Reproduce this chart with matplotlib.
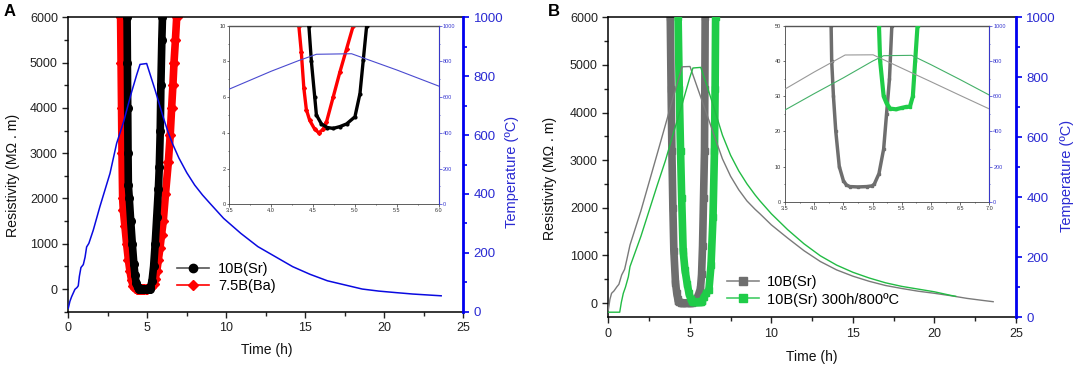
import matplotlib
matplotlib.use("Agg")
import matplotlib.pyplot as plt
from matplotlib.lines import Line2D
from matplotlib.ticker import MultipleLocator

plt.rcParams['font.family'] = ['Liberation Sans', 'DejaVu Sans']

# ---------------- Panel A data ----------------
A_sr_t = [3.68, 3.72, 3.74, 3.76, 3.78, 3.80, 3.86, 3.95, 4.05, 4.15, 4.22, 4.30, 4.38, 4.45, 4.48, 4.52,
          4.54, 4.60, 4.67, 4.74, 4.82, 4.90, 5.00, 5.06, 5.10, 5.14, 5.20, 5.30, 5.40, 5.50, 5.60, 5.70,
          5.76, 5.82, 5.86, 5.92, 5.96, 6.00]
A_sr_R = [7000, 6000, 5000, 4000, 3000, 2300, 2000, 1500, 1000, 550, 300, 130, 40, 10, 8, 6,
          5, 4.5, 4.3, 4.25, 4.35, 4.5, 4.9, 6.2, 8.1, 10, 40, 180, 500, 1000, 1600, 2200,
          2700, 3500, 4500, 5500, 6000, 7000]

A_ba_t = [3.28, 3.31, 3.34, 3.37, 3.40, 3.44, 3.48, 3.58, 3.69, 3.80, 3.90, 4.00, 4.11, 4.20, 4.28, 4.33,
          4.36, 4.39, 4.42, 4.46, 4.52, 4.57, 4.62, 4.66, 4.74, 4.82, 4.90, 4.98, 5.10, 5.25, 5.40, 5.50,
          5.60, 5.70, 5.80, 5.90, 6.01, 6.15, 6.33, 6.45, 6.54, 6.62, 6.69, 6.78, 6.86, 6.92]
A_ba_R = [7000, 6000, 5000, 4000, 3000, 2000, 1750, 1400, 1000, 650, 400, 200, 60, 25, 14, 10,
          8.5, 6.5, 5.3, 4.7, 4.2, 4.0, 4.2, 4.6, 6.0, 7.4, 8.7, 10, 20, 50, 120, 220,
          400, 650, 900, 1200, 1500, 2100, 2800, 3400, 4000, 4500, 5000, 5500, 6000, 7000]

A_temp_t = [0, 0.1, 0.21, 0.42, 0.55, 0.63, 0.7, 0.8, 0.95, 1.06, 1.16, 1.3, 1.58, 2.0, 2.64, 3.06,
            3.5, 3.7, 4.0, 4.33, 4.54, 4.96, 5.5, 6.0, 6.3, 6.6, 7.0, 7.5, 8.0, 8.5, 9.0, 9.83,
            10.92, 12.0, 13.1, 14.2, 15.3, 16.4, 17.5, 18.6, 19.65, 20.7, 21.8, 22.7, 23.6]
A_temp_T = [12, 35, 51, 76, 82, 88, 120, 150, 160, 185, 220, 232, 277, 357, 470, 572,
            645, 685, 745, 805, 840, 843, 752, 662, 612, 570, 522, 472, 430, 396, 366, 317,
            266, 221, 187, 153, 127, 105, 91, 77, 70, 65, 60, 57, 54]

# ---------------- Panel B data ----------------
B_sr_t = [3.76, 3.80, 3.85, 3.90, 3.96, 4.02, 4.12, 4.20, 4.26, 4.29, 4.30, 4.33, 4.37, 4.43, 4.50, 4.55,
          4.61, 4.75, 4.90, 4.99, 5.03, 5.11, 5.19, 5.24, 5.29, 5.33, 5.40, 5.50, 5.58, 5.65, 5.72, 5.78,
          5.84, 5.90, 5.92, 5.94, 5.97]
B_sr_R = [7000, 6000, 4500, 3200, 2000, 1100, 430, 200, 90, 50, 40, 30, 20, 10, 6, 4.8,
          4.3, 4.2, 4.3, 4.5, 5, 8, 15, 25, 35, 50, 90, 150, 220, 300, 600, 1200,
          2200, 3200, 4500, 6000, 7000]

B_aged_t = [4.24, 4.28, 4.35, 4.43, 4.50, 4.59, 4.70, 4.84, 4.95, 5.05, 5.11, 5.13, 5.19, 5.24, 5.30, 5.40,
            5.50, 5.58, 5.64, 5.69, 5.73, 5.77, 5.86, 6.00, 6.17, 6.30, 6.42, 6.51, 6.55, 6.58, 6.62]
B_aged_R = [7000, 6000, 4500, 3200, 2200, 1100, 700, 400, 200, 90, 50, 40, 30, 28, 26.5, 26.3,
            26.7, 27, 27, 30, 40, 50, 120, 200, 280, 800, 1800, 3200, 4500, 6000, 7000]

B_sr_temp_t = [0, 0.1, 0.2, 0.35, 0.53, 0.65, 0.82, 1.0, 1.13, 1.33, 2.0, 2.5, 3.0, 3.5, 4.0, 4.53,
               5.01, 5.5, 6.0, 6.5, 7.0, 7.5, 8.0, 8.5, 9.0, 9.3, 10.0, 11.0, 12.0, 13.0, 14.0, 15.0,
               16.0, 17.0, 18.0, 19.0, 20.0, 21.0, 22.0, 23.0, 23.6]
B_sr_temp_T = [24, 60, 80, 88, 102, 110, 141, 160, 191, 241, 355, 450, 545, 641, 738, 835,
               836, 760, 683, 605, 528, 470, 425, 388, 360, 345, 308, 264, 222, 186, 158, 137,
               120, 106, 96, 87, 80, 72, 63, 56, 52]

B_aged_temp_t = [0, 0.35, 0.7, 0.8, 0.92, 1.05, 1.23, 1.33, 2.0, 2.5, 3.0, 3.5, 4.0, 4.5, 5.0, 5.19,
                 5.67, 6.0, 6.5, 7.0, 7.5, 8.0, 8.5, 9.0, 9.3, 10.0, 11.0, 12.0, 13.0, 14.0, 15.0, 16.0,
                 17.0, 18.0, 19.0, 20.0, 21.0, 21.3]
B_aged_temp_T = [17, 17, 17, 50, 80, 100, 135, 169, 270, 355, 440, 522, 615, 705, 800, 831,
                 833, 780, 695, 607, 540, 488, 445, 408, 388, 345, 292, 245, 205, 174, 150, 131,
                 115, 103, 94, 85, 73, 70]

A_labels = ['10B(Sr)', '7.5B(Ba)']
B_labels = ['10B(Sr)', '10B(Sr) 300h/800ºC']

# ---------------- styling ----------------
W, H = 1084.0, 368.0
BLUE = '#0000f0'
BLUE_TXT = '#2a2ad2'
RED = '#ff0000'
GRAY = '#6e6e6e'
GREEN = '#1fcc48'


def rect(l, r, t, b):
    return [l / W, (H - b) / H, (r - l) / W, (b - t) / H]


def style_main(ax, ax2, ymin):
    ax.set_xlim(0, 25)
    ax.set_ylim(ymin, 6000)
    ax.set_yticks([0, 1000, 2000, 3000, 4000, 5000, 6000])
    ax.yaxis.set_minor_locator(MultipleLocator(500))
    ax.xaxis.set_major_locator(MultipleLocator(5))
    ax.xaxis.set_minor_locator(MultipleLocator(2.5))
    ax.tick_params(which='both', direction='out', width=1.0, labelsize=9, colors='#222222')
    ax.tick_params(which='major', length=4)
    ax.tick_params(which='minor', length=3)
    for s in ['left', 'bottom', 'top']:
        ax.spines[s].set_linewidth(1.1)
    ax2.set_ylim(0, 1000)
    ax2.yaxis.set_major_locator(MultipleLocator(200))
    ax2.yaxis.set_minor_locator(MultipleLocator(100))
    ax2.tick_params(which='both', direction='out', width=1.2, colors=BLUE, labelsize=9.5)
    ax2.tick_params(which='major', length=4)
    ax2.tick_params(which='minor', length=3)
    for lab in ax2.get_yticklabels():
        lab.set_color(BLUE_TXT)
    ax2.spines['right'].set_color(BLUE)
    ax2.spines['right'].set_linewidth(2.0)
    for s in ['left', 'bottom', 'top']:
        ax2.spines[s].set_visible(False)


def style_inset(ax, ax2, xmax, ymax, ystep):
    ax.set_xlim(3.5, xmax)
    ax.set_ylim(0, ymax)
    ax.xaxis.set_major_locator(MultipleLocator(0.5))
    ax.xaxis.set_minor_locator(MultipleLocator(0.25))
    ax.yaxis.set_major_locator(MultipleLocator(ystep))
    ax.yaxis.set_minor_locator(MultipleLocator(ystep / 2))
    ax.xaxis.set_major_formatter(matplotlib.ticker.FormatStrFormatter('%.1f'))
    ax.tick_params(which='both', direction='out', width=0.5, labelsize=4, pad=1, colors='#333333')
    ax.tick_params(which='major', length=1.8)
    ax.tick_params(which='minor', length=1.0)
    for s in ['left', 'bottom']:
        ax.spines[s].set_linewidth(0.6)
        ax.spines[s].set_color('#444444')
    ax.spines['top'].set_linewidth(1.0)
    ax.spines['top'].set_color('#555555')
    ax2.set_ylim(0, 1000)
    ax2.yaxis.set_major_locator(MultipleLocator(200))
    ax2.yaxis.set_minor_locator(MultipleLocator(100))
    ax2.tick_params(which='both', direction='out', width=0.5, labelsize=4, pad=1, colors='#3a3ad0')
    ax2.tick_params(which='major', length=1.8)
    ax2.tick_params(which='minor', length=1.0)
    ax2.spines['right'].set_color('#3a3ad0')
    ax2.spines['right'].set_linewidth(0.7)
    for s in ['left', 'bottom', 'top']:
        ax2.spines[s].set_visible(False)


fig = plt.figure(figsize=(W / 100, H / 100), dpi=100)

# ---------------- Panel A ----------------
axA = fig.add_axes(rect(68.3, 463.3, 17.3, 311.7))
axA.plot(A_sr_t, A_sr_R, color='black', lw=5.5, marker='o', ms=5.5, zorder=3)
axA.plot(A_ba_t, A_ba_R, color=RED, lw=5.5, marker='D', ms=5.5, zorder=2)
axA2 = axA.twinx()
axA2.plot(A_temp_t, A_temp_T, color='#0a0ae0', lw=1.1)
style_main(axA, axA2, -500)

handlesA = [Line2D([], [], color='#555555', lw=1.2, marker='o', mfc='black', mec='black', ms=6),
            Line2D([], [], color=RED, lw=1.2, marker='D', mfc=RED, mec=RED, ms=5)]
axA.legend(handlesA, A_labels, loc='upper left', bbox_to_anchor=(0.275, 0.168), frameon=False,
           fontsize=10.5, handlelength=2.2, handletextpad=0.6, borderpad=0, labelspacing=0.22,
           borderaxespad=0)

insA = fig.add_axes(rect(229.3, 438.7, 25.7, 204.3))
insA.plot(A_sr_t, A_sr_R, color='black', lw=2.4, marker='o', ms=2, zorder=3)
insA.plot(A_ba_t, A_ba_R, color=RED, lw=2.4, marker='D', ms=2, zorder=2)
insA2 = insA.twinx()
insA2.plot(A_temp_t, A_temp_T, color='#4a4ad0', lw=0.8)
style_inset(insA, insA2, 6.0, 10, 2)

fig.text(9.5 / W, 1 - 11.7 / H, 'A', fontsize=12, fontweight='bold', ha='center', va='center')
fig.text(13.3 / W, 1 - 175 / H, 'Resistivity (MΩ . m)', rotation=90, fontsize=10.2,
         ha='center', va='center', color='#111111')
fig.text(511.7 / W, 1 - 171.7 / H, 'Temperature (ºC)', rotation=90, fontsize=10.5,
         ha='center', va='center', color=BLUE_TXT)
fig.text(266.6 / W, 1 - 350 / H, 'Time (h)', fontsize=10, ha='center', va='center', color='#111111')

# ---------------- Panel B ----------------
axB = fig.add_axes(rect(608.3, 1016, 17.3, 317.3))
axB.plot(B_sr_t, B_sr_R, color=GRAY, lw=5.5, marker='s', ms=5, zorder=2)
axB.plot(B_aged_t, B_aged_R, color=GREEN, lw=5.5, marker='s', ms=5, zorder=3)
axB2 = axB.twinx()
axB2.plot(B_sr_temp_t, B_sr_temp_T, color='#7a7a7a', lw=1.0)
axB2.plot(B_aged_temp_t, B_aged_temp_T, color='#22bb44', lw=1.0)
style_main(axB, axB2, -300)

handlesB = [Line2D([], [], color='#888888', lw=1.2, marker='s', mfc=GRAY, mec=GRAY, ms=6),
            Line2D([], [], color='#44cc66', lw=1.2, marker='s', mfc=GREEN, mec=GREEN, ms=6)]
axB.legend(handlesB, B_labels, loc='upper left', bbox_to_anchor=(0.29, 0.14), frameon=False,
           fontsize=10.5, handlelength=2.2, handletextpad=0.6, borderpad=0, labelspacing=0.22,
           borderaxespad=0)

insB = fig.add_axes(rect(785, 989.3, 26, 201.7))
insB.plot(B_sr_t, B_sr_R, color=GRAY, lw=2.5, marker='s', ms=2, zorder=2)
insB.plot(B_aged_t, B_aged_R, color=GREEN, lw=3, marker='s', ms=2, zorder=3)
insB2 = insB.twinx()
insB2.plot(B_sr_temp_t, B_sr_temp_T, color='#999999', lw=0.8)
insB2.plot(B_aged_temp_t, B_aged_temp_T, color='#44b068', lw=0.8)
style_inset(insB, insB2, 7.0, 50, 10)

fig.text(553.5 / W, 1 - 11.7 / H, 'B', fontsize=12, fontweight='bold', ha='center', va='center')
fig.text(550 / W, 1 - 178 / H, 'Resistivity (MΩ . m)', rotation=90, fontsize=10.2,
         ha='center', va='center', color='#111111')
fig.text(1066.7 / W, 1 - 175.7 / H, 'Temperature (ºC)', rotation=90, fontsize=10.5,
         ha='center', va='center', color=BLUE_TXT)
fig.text(811.7 / W, 1 - 357.3 / H, 'Time (h)', fontsize=10, ha='center', va='center', color='#111111')

fig.savefig('out.png', dpi=100)
